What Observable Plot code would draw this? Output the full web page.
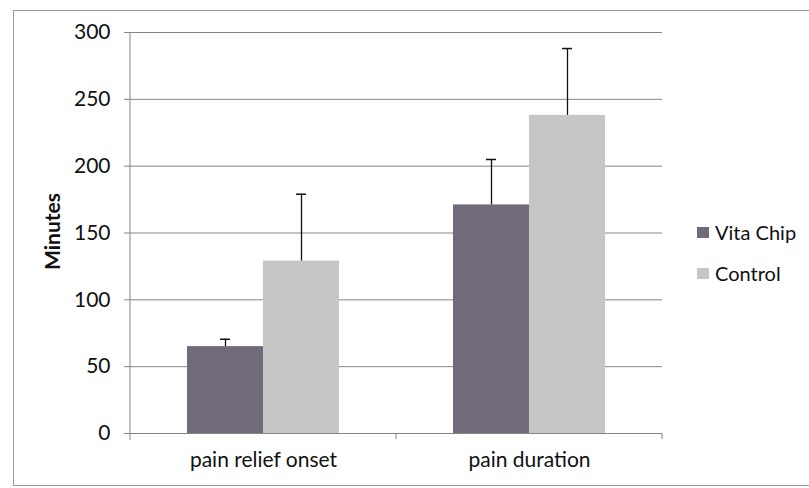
<!DOCTYPE html>
<html>
<head>
<meta charset="utf-8">
<script src="https://cdn.jsdelivr.net/npm/d3@7"></script>
<script src="https://cdn.jsdelivr.net/npm/@observablehq/plot@0.6"></script>
<style>
  html, body { margin: 0; padding: 0; background: #fff; }
  #wrap { position: relative; width: 809px; height: 488px; overflow: hidden; font-family: Lato, "Open Sans", sans-serif; }
  #border { position: absolute; left: 13px; top: 10px; width: 810px; height: 476px; border: 1px solid #9a9a9a; box-sizing: border-box; }
  #legend { position: absolute; left: 697px; top: 220px; font-size: 20px; color: #111; }
  .row { display: flex; align-items: center; height: 24px; margin-bottom: 17px; }
  .sw { width: 12px; height: 11px; margin-right: 6px; }
</style>
</head>
<body>
<div id="wrap"><div id="border"></div></div>
<script>
const groups = ["pain relief onset", "pain duration"];
const series = ["Vita Chip", "Control"];
const vitaChip = [65, 171];
const vitaChipErr = [5.5, 34];
const control = [129, 238];
const controlErr = [50, 50];
const colors = ["#706a7a", "#c6c6c6"];
const yTicks = [0, 50, 100, 150, 200, 250, 300];

const data = [];
groups.forEach((g, i) => {
  data.push({group: g, series: series[0], value: vitaChip[i], err: vitaChipErr[i]});
  data.push({group: g, series: series[1], value: control[i], err: controlErr[i]});
});

const gridColor = "#858585";

const chart = Plot.plot({
  width: 809,
  height: 488,
  marginLeft: 129,
  marginRight: 147,
  marginTop: 32,
  marginBottom: 55,
  style: {fontFamily: "Lato, 'Open Sans', sans-serif", fontSize: "21px", color: "#111", background: "transparent", overflow: "visible"},
  fx: {domain: groups, padding: 0, label: null},
  x: {domain: series, paddingInner: 0, paddingOuter: 0.74, axis: null},
  y: {domain: [0, 300], label: null},
  color: {domain: series, range: colors},
  marks: [
    Plot.ruleY(yTicks, {stroke: gridColor, strokeWidth: 1}),
    Plot.axisY({ticks: yTicks, tickSize: 6, tickPadding: 14, stroke: gridColor, label: null, fill: "#111", fontSize: 21}),
    Plot.barY(data, {fx: "group", x: "series", y: "value", fill: "series"}),
    Plot.ruleX(data, {fx: "group", x: "series", y1: "value", y2: d => d.value + d.err, stroke: "#111", strokeWidth: 1.3}),
    Plot.tickY(data, {fx: "group", x: "series", y: d => d.value + d.err, insetLeft: 33, insetRight: 33, stroke: "#111", strokeWidth: 1.5}),
    Plot.axisFx({anchor: "bottom", tickSize: 0, tickPadding: 19, label: null, fill: "#111", fontSize: 21})
  ]
});

document.getElementById("wrap").prepend(chart);

// axis line and category boundary ticks, positioned from the chart's own scales
const y = chart.scale("y");
const fx = chart.scale("fx");
const svg = d3.select(chart);
const y0 = y.apply(0), yTop = y.apply(300);
const xLeft = fx.apply(groups[0]);
svg.append("line").attr("x1", xLeft).attr("x2", xLeft).attr("y1", yTop).attr("y2", y0 + 7)
  .attr("stroke", gridColor);
groups.forEach(g => {
  const xe = fx.apply(g) + fx.bandwidth;
  svg.append("line").attr("x1", xe).attr("x2", xe).attr("y1", y0).attr("y2", y0 + 6)
    .attr("stroke", gridColor);
});

// legend
const color = chart.scale("color");
const legend = d3.select("#wrap").append("div").attr("id", "legend");
series.forEach(s => {
  const row = legend.append("div").attr("class", "row");
  row.append("div").attr("class", "sw").style("background", color.apply(s));
  row.append("span").text(s);
});

// y label
svg.append("text").attr("transform", `translate(55,${(y0 + yTop) / 2 - 1}) rotate(-90)`)
  .attr("text-anchor", "middle").attr("dominant-baseline", "middle")
  .attr("font-weight", "bold").attr("font-size", 21).attr("fill", "#111").text("Minutes");
</script>
</body>
</html>
